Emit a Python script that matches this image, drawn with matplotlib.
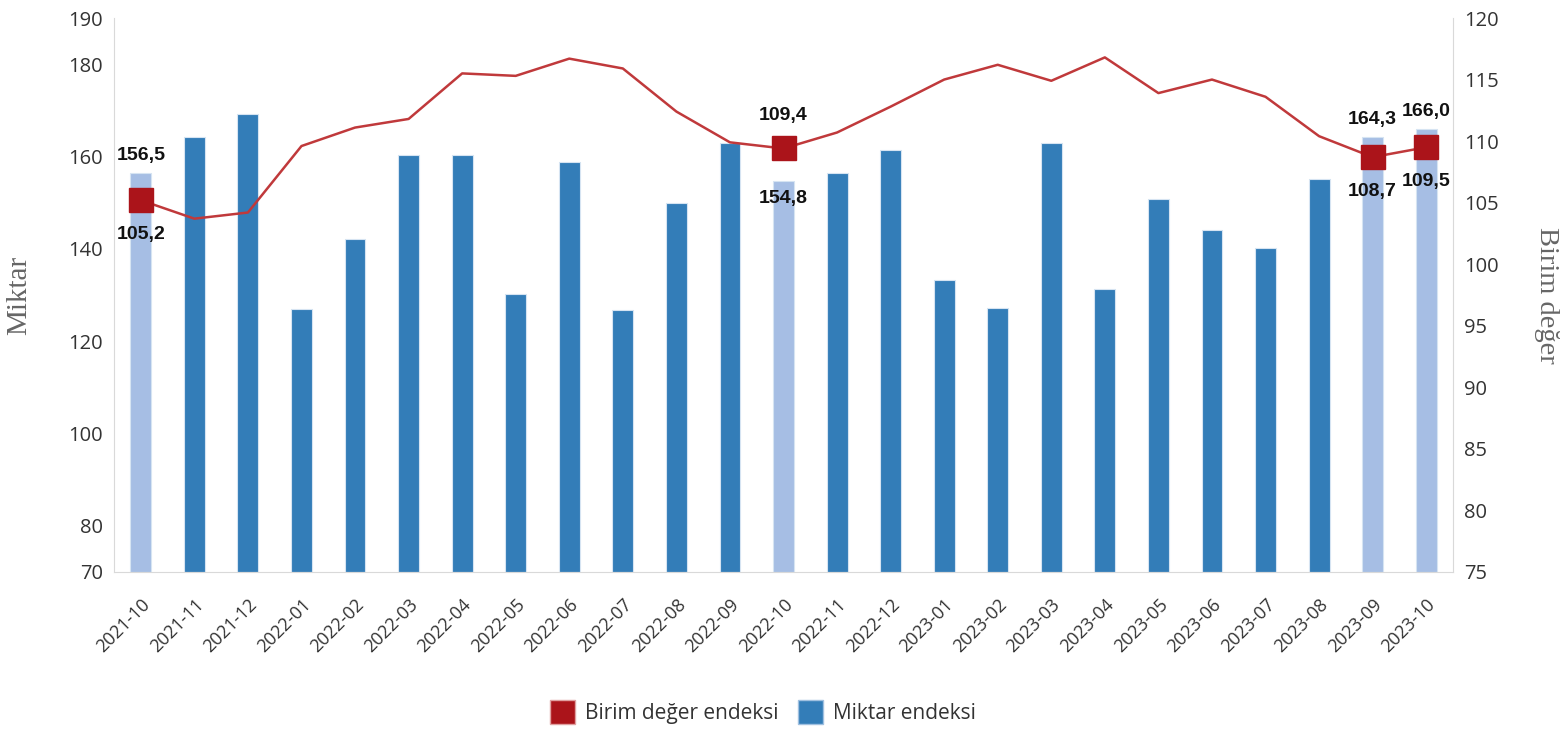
import matplotlib
matplotlib.use("Agg")
import matplotlib.pyplot as plt
from matplotlib.patches import Patch
import numpy as np

categories = ["2021-10", "2021-11", "2021-12", "2022-01", "2022-02", "2022-03", "2022-04",
              "2022-05", "2022-06", "2022-07", "2022-08", "2022-09", "2022-10", "2022-11",
              "2022-12", "2023-01", "2023-02", "2023-03", "2023-04", "2023-05", "2023-06",
              "2023-07", "2023-08", "2023-09", "2023-10"]
miktar = [156.5, 164.3, 169.3, 127.0, 142.2, 160.4, 160.4, 130.2, 158.7, 126.7, 150.0,
          163.0, 154.8, 156.5, 161.3, 133.3, 127.2, 163.0, 131.3, 150.9, 144.1, 140.2,
          155.2, 164.3, 166.0]
birim = [105.2, 103.7, 104.2, 109.6, 111.1, 111.8, 115.5, 115.3, 116.7, 115.9, 112.4,
         109.9, 109.4, 110.7, 112.8, 115.0, 116.2, 114.9, 116.8, 113.9, 115.0, 113.6,
         110.4, 108.7, 109.5]
highlight = [0, 12, 23, 24]
left_ticks = [70, 80, 100, 120, 140, 160, 180, 190]
right_ticks = [75, 80, 85, 90, 95, 100, 105, 110, 115, 120]

dark_blue = "#337DB8"
light_blue = "#A6BEE4"
line_red = "#C0393B"
marker_red = "#AB141A"

fig = plt.figure(figsize=(15.6, 7.29), dpi=100)
ax = fig.add_axes([0.0731, 0.2154, 0.8583, 0.7599])
ax2 = ax.twinx()

x = np.arange(len(categories))
colors = [light_blue if i in highlight else dark_blue for i in x]
ax.bar(x, np.array(miktar) - 70, bottom=70, width=0.39, color=colors,
       edgecolor="#D6E4F2", linewidth=0.8, zorder=2)
ax.set_ylim(70, 190)
ax.set_xlim(-0.5, len(categories) - 0.5)
ax.set_yticks(left_ticks)
ax.set_yticklabels([str(t) for t in left_ticks])

ax2.plot(x, birim, color=line_red, linewidth=1.8, zorder=3)
ax2.plot([x[i] for i in highlight], [birim[i] for i in highlight], linestyle="none",
         marker="s", markersize=17, color=marker_red, zorder=4)
ax2.set_ylim(75, 120)
ax2.set_yticks(right_ticks)

for a in (ax, ax2):
    for lab in a.get_yticklabels():
        lab.set_fontfamily(["Open Sans", "DejaVu Sans"])
        lab.set_fontsize(14.5)
        lab.set_color("#333333")
    a.tick_params(axis="y", length=0, pad=8)
    for s in a.spines.values():
        s.set_visible(False)
ax.spines["left"].set_visible(True)
ax.spines["left"].set_color("#D9D9D9")
ax.spines["bottom"].set_visible(True)
ax.spines["bottom"].set_color("#D9D9D9")
ax2.spines["right"].set_visible(True)
ax2.spines["right"].set_color("#D9D9D9")

ax.set_xticks(x)
ax.set_xticklabels(categories, rotation=45, ha="right", rotation_mode="anchor",
                   fontfamily=["Open Sans", "DejaVu Sans"], fontsize=13, color="#333333")
ax.tick_params(axis="x", length=0, pad=17)

ax.set_ylabel("Miktar", fontfamily="Liberation Serif", fontsize=21, color="#666666", labelpad=26)
ax2.set_ylabel("Birim değer", fontfamily="Liberation Serif", fontsize=20.5, color="#666666",
               rotation=270, labelpad=43)

ann = dict(fontfamily="Liberation Sans", fontweight="bold", fontsize=14, color="#111111",
           ha="center", va="center", textcoords="offset points")


def fmt(v):
    return f"{v:.1f}".replace(".", ",")


ax.annotate(fmt(miktar[0]), (x[0], miktar[0]), xytext=(0, 12.5), **ann)
ax2.annotate(fmt(birim[0]), (x[0], birim[0]), xytext=(0, -25), **ann)
ax2.annotate(fmt(birim[12]), (x[12], birim[12]), xytext=(0, 23.5), **ann)
ax2.annotate(fmt(miktar[12]), (x[12], birim[12]), xytext=(0, -36), **ann)
ax.annotate(fmt(miktar[23]), (x[23], miktar[23]), xytext=(0, 12), **ann)
ax2.annotate(fmt(birim[23]), (x[23], birim[23]), xytext=(0, -24.5), **ann)
ax.annotate(fmt(miktar[24]), (x[24], miktar[24]), xytext=(0, 12.5), **ann)
ax2.annotate(fmt(birim[24]), (x[24], birim[24]), xytext=(0, -24.5), **ann)

handles = [Patch(facecolor=marker_red, edgecolor="#E0A0A0", label="Birim değer endeksi"),
           Patch(facecolor=dark_blue, edgecolor="#A0C0E0", label="Miktar endeksi")]
leg = fig.legend(handles=handles, loc="center", bbox_to_anchor=(0.489, 0.023), ncol=2,
                 frameon=False, handlelength=1.2, handleheight=1.35, handletextpad=0.5,
                 columnspacing=0.9, prop={"family": ["Open Sans", "DejaVu Sans"], "size": 15})
for t in leg.get_texts():
    t.set_color("#333333")

fig.savefig("out.png", dpi=100, facecolor="white")
